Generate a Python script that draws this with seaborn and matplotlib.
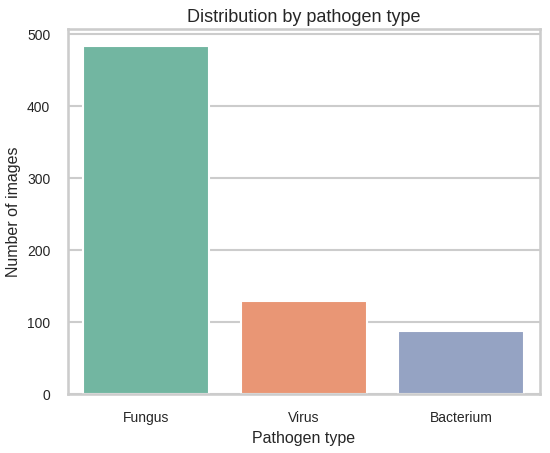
import matplotlib
matplotlib.use("Agg")
import matplotlib.pyplot as plt
import seaborn as sns
import pandas as pd

pathogens = ["Fungus", "Virus", "Bacterium"]
counts = [483, 130, 87]

sns.set_theme(style="whitegrid", context="talk")
plt.rcParams['font.family'] = ['Liberation Sans', 'DejaVu Sans']

df = pd.DataFrame({"pathogen": pathogens, "count": counts})

fig, ax = plt.subplots(figsize=(5.5, 4.53), dpi=100)
sns.barplot(data=df, x="pathogen", y="count", hue="pathogen",
            palette="Set2", legend=False, ax=ax)
ax.set_title("Distribution by pathogen type", fontsize=13, pad=5)
ax.set_xlabel("Pathogen type", fontsize=11.5)
ax.set_ylabel("Number of images", fontsize=11.5)
ax.tick_params(axis="both", labelsize=10)
fig.subplots_adjust(left=0.123, right=0.982, top=0.936, bottom=0.13)
fig.savefig("out.png", dpi=100)
